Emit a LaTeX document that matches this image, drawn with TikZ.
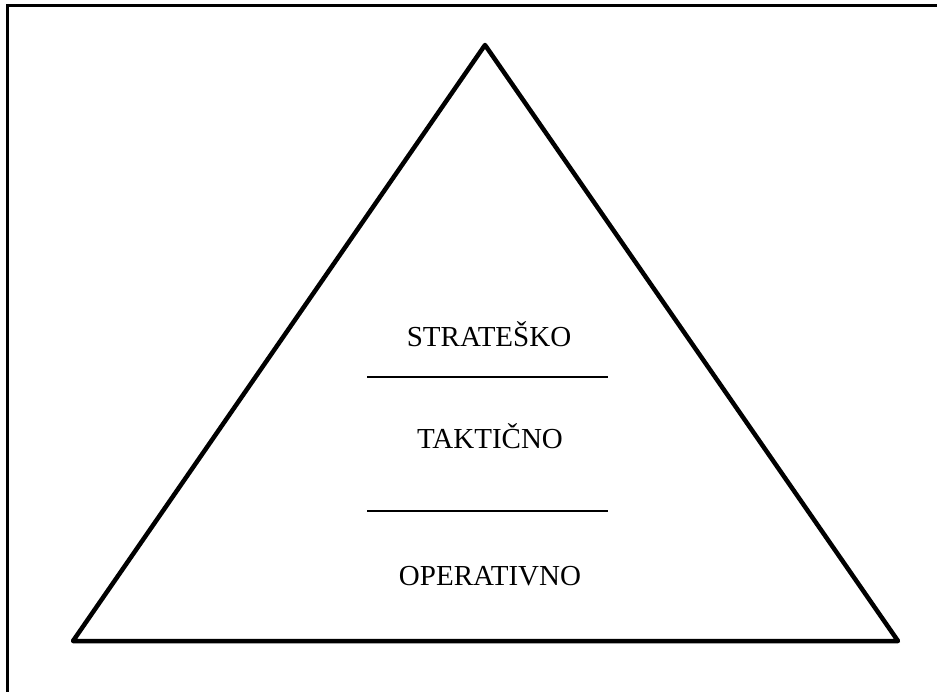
\documentclass[tikz,border=0pt]{standalone}
\usepackage{fontspec}
\setmainfont{Liberation Serif}
\begin{document}
\begin{tikzpicture}[x=1pt,y=-1pt,
  lbl/.style={anchor=base,inner sep=0pt,font=\fontsize{29}{34}\selectfont},
  frame/.style={line width=2.2pt},
  tri/.style={line width=4.5pt,line join=round},
  divider/.style={line width=2.4pt}]
\useasboundingbox (0,0) rectangle (937,692);
\clip (0,0) rectangle (937,692);
\draw[frame] (7.5,5.5) rectangle (945,700);
\coordinate (apex) at (485,45);
\coordinate (bl) at (73,641);
\coordinate (br) at (898,641);
\draw[tri] (apex) -- (br) -- (bl) -- cycle;
\coordinate (d1l) at (367,377);
\coordinate (d1r) at (608,377);
\coordinate (d2l) at (367,511);
\coordinate (d2r) at (608,511);
\draw[divider] (d1l) -- (d1r);
\draw[divider] (d2l) -- (d2r);
\node[lbl] (s) at (489,347) {STRATEŠKO};
\node[lbl] (t) at (490,448) {TAKTIČNO};
\node[lbl] (o) at (490,585) {OPERATIVNO};
\end{tikzpicture}
\end{document}
